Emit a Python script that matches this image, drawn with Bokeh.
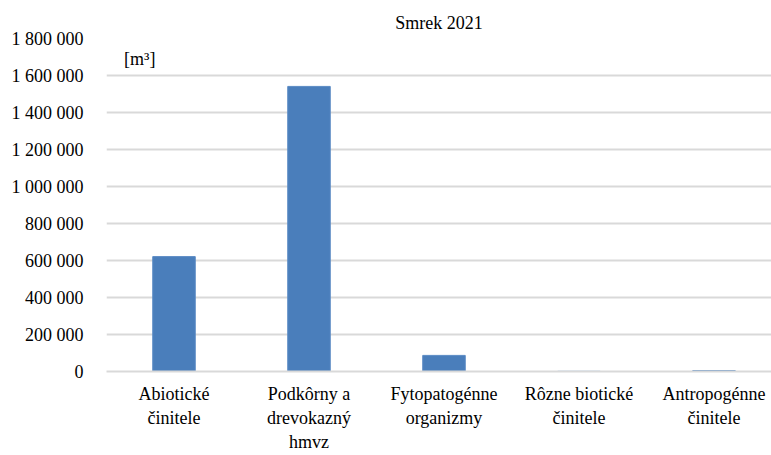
from bokeh.plotting import figure
from bokeh.models import Range1d, FixedTicker, Label
from bokeh.embed import file_html
from bokeh.resources import INLINE

categories = ["Abiotické\nčinitele", "Podkôrny a\ndrevokazný\nhmvz", "Fytopatogénne\norganizmy",
              "Rôzne biotické\nčinitele", "Antropogénne\nčinitele"]
values = [621000, 1541000, 87000, 1000, 5000]
y_ticks = [0, 200000, 400000, 600000, 800000, 1000000, 1200000, 1400000, 1600000, 1800000]
y_tick_labels = ["0", "200 000", "400 000", "600 000", "800 000", "1 000 000",
                 "1 200 000", "1 400 000", "1 600 000", "1 800 000"]
title_text = "Smrek 2021"
unit_text = "[m³]"

FONT = "Liberation Serif"
xs = [i + 0.5 for i in range(len(categories))]

p = figure(width=771, height=455, output_backend="svg", toolbar_location=None,
           x_range=Range1d(0, 4.926), y_range=Range1d(0, 1800000),
           min_border_left=106, min_border_right=0, min_border_top=38, min_border_bottom=84,
           title=title_text)
p.outline_line_color = None
p.background_fill_color = "white"

p.title.align = "center"
p.title.text_font = FONT
p.title.text_font_size = "18px"
p.title.text_font_style = "normal"
p.title.text_color = "black"
p.title.standoff = 12

p.vbar(x=xs, top=values, width=0.315, fill_color="#4A7EBB", line_color="#5B8BC4", line_width=1)

# y axis
yax = p.yaxis[0]
yax.ticker = FixedTicker(ticks=y_ticks)
yax.major_label_overrides = {t: l for t, l in zip(y_ticks, y_tick_labels)}
yax.axis_line_color = None
yax.major_tick_line_color = None
yax.minor_tick_line_color = None
yax.major_label_text_font = FONT
yax.major_label_text_font_size = "18px"
yax.major_label_text_color = "black"
yax.major_label_standoff = 17

# x axis
xax = p.xaxis[0]
xax.ticker = FixedTicker(ticks=xs)
xax.major_label_overrides = {x: c for x, c in zip(xs, categories)}
xax.axis_line_color = "#d9d9d9"
xax.axis_line_width = 2
xax.major_tick_line_color = None
xax.minor_tick_line_color = None
xax.major_label_text_font = FONT
xax.major_label_text_font_size = "18px"
xax.major_label_text_color = "black"
xax.major_label_standoff = 6
xax.major_label_text_line_height = 1.22

p.xgrid.grid_line_color = None
p.ygrid.ticker = FixedTicker(ticks=y_ticks)
p.ygrid.grid_line_color = "#d9d9d9"
p.ygrid.grid_line_width = 2

p.add_layout(Label(x=0.13, y=1690000, text=unit_text, text_font=FONT, text_font_size="18px",
                   text_align="left", text_baseline="middle", text_color="black"))

open("out.html", "w").write(file_html(p, INLINE))
